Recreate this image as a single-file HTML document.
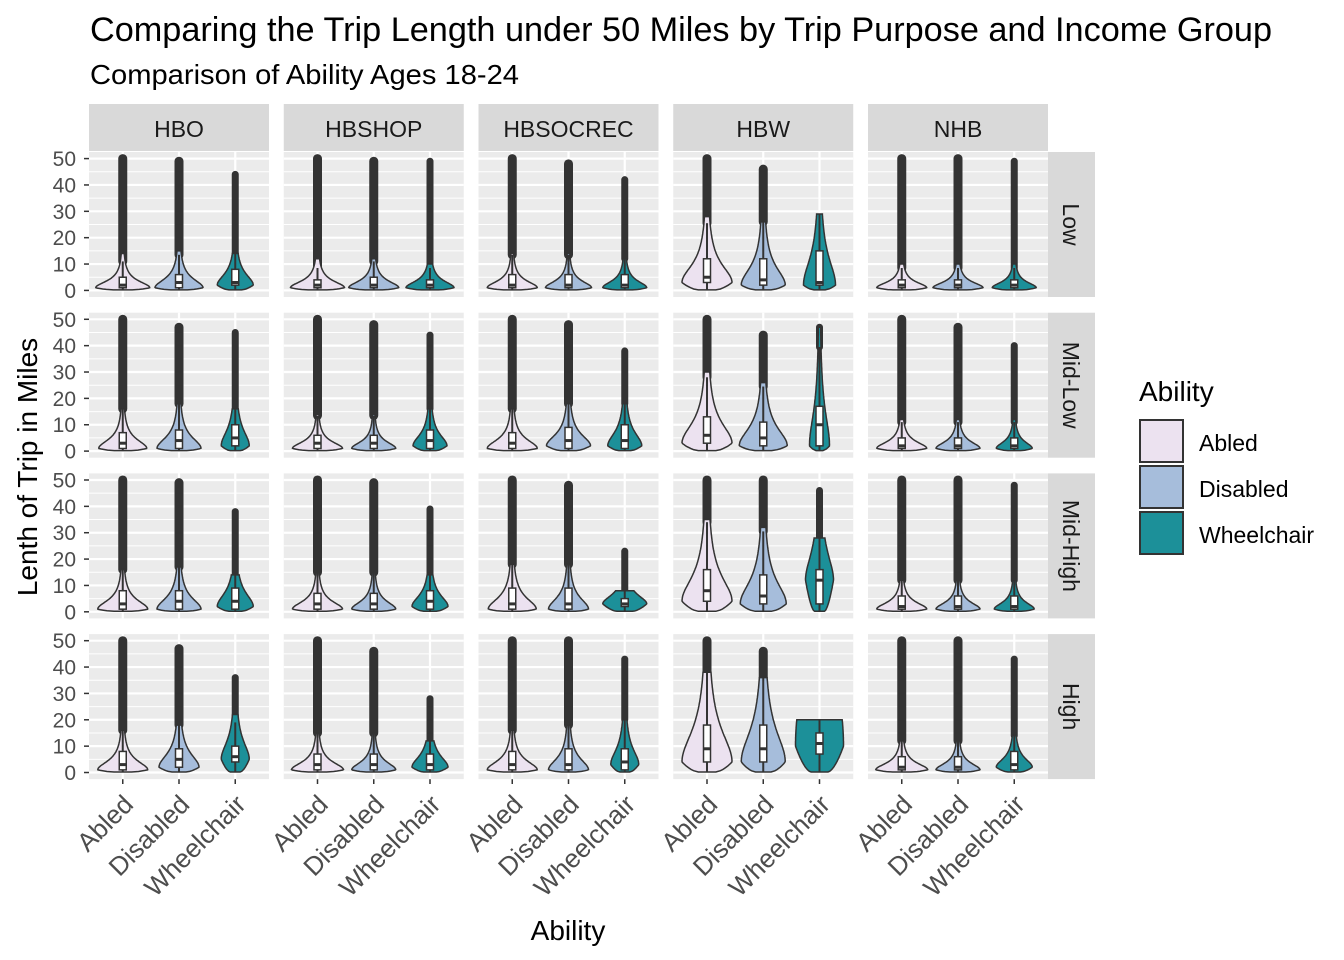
<!DOCTYPE html>
<html><head><meta charset="utf-8"><style>
html,body{margin:0;padding:0;background:#fff}
svg{display:block;font-family:"Liberation Sans",Arial,sans-serif}
</style></head><body>
<svg id="chart" width="1344" height="960" viewBox="0 0 1344 960" xmlns="http://www.w3.org/2000/svg">
<text x="90" y="41" font-size="34" fill="#000" textLength="1182" lengthAdjust="spacingAndGlyphs">Comparing the Trip Length under 50 Miles by Trip Purpose and Income Group</text>
<text x="90" y="84" font-size="28" fill="#000" textLength="429" lengthAdjust="spacingAndGlyphs">Comparison of Ability Ages 18-24</text>
<text transform="translate(37,467) rotate(-90)" text-anchor="middle" font-size="28" fill="#000">Lenth of Trip in Miles</text>
<text x="568" y="940" text-anchor="middle" font-size="28" fill="#000">Ability</text>
<g id="panels"></g>
<g>
<text x="1139" y="401" font-size="28" fill="#000">Ability</text>
<rect x="1140" y="420" width="43" height="42" fill="#ECE2F0" stroke="#333" stroke-width="2"/>
<rect x="1140" y="466" width="43" height="42" fill="#A6BDDB" stroke="#333" stroke-width="2"/>
<rect x="1140" y="512" width="43" height="42" fill="#1C9099" stroke="#333" stroke-width="2"/>
<text x="1199" y="451" font-size="23" fill="#000">Abled</text>
<text x="1199" y="497" font-size="23" fill="#000">Disabled</text>
<text x="1199" y="543" font-size="23" fill="#000">Wheelchair</text>
</g>
</svg>
<script>
const purposes = ["HBO","HBSHOP","HBSOCREC","HBW","NHB"];
const incomes = ["Low","Mid-Low","Mid-High","High"];
const abilities = ["Abled","Disabled","Wheelchair"];
const yTicks = [0,10,20,30,40,50];
const fills = ["#ECE2F0","#A6BDDB","#1C9099"];
// per violin: [q1, median, q3, violinTop, max, mode, spread, widthPx]
const lowData = [
 [[1,2,5,14,50,1,3,27],[1,3,6,15,49,1,4,24],[2,3,8,14,44,2,5,18]],
 [[1,2,4,12,50,1,3,27],[1,2,5,12,49,1,3,25],[1,2,4,10,49,1,3,24]],
 [[1,2,6,14,50,1,3,25],[1,2,6,14,48,1,3,23],[1,2,6,12,42,1,3,22]],
 [[3,5,12,28,50,3,8,25],[2,4,12,26,46,2,8,22],[2,3,15,29,29,2,12,16]],
 [[1,2,4,10,50,1,2.5,25],[1,2,4,10,50,1,2.5,25],[1,2,4,10,49,1,2.5,22]]
];
const midLowData = [
 [[1,3,7,16,50,1,4,24],[1,4,8,18,47,1,5,22],[2,5,10,16,45,2,7,14]],
 [[1,3,6,14,50,1,3,25],[1,3,6,14,48,1,3,22],[1,4,8,16,44,2,5,17]],
 [[1,3,7,16,50,1,4,25],[1,4,9,18,48,2,5,22],[1,4,10,18,38,2,6,17]],
 [[3,6,13,30,50,3,9,25],[2,5,11,26,44,2,8,24],[2,10,17,47,47,2,15,10]],
 [[1,2,5,12,50,1,3,25],[1,2,5,12,47,1,3,22],[1,2,5,12,40,1,3,18]]
];
const midHighData = [
 [[1,3,8,16,50,1,4,25],[1,4,8,17,49,1,5,22],[1,4,9,14,38,2,6,18]],
 [[1,3,7,15,50,1,3.5,25],[1,3,7,15,49,1,3.5,22],[1,4,8,14,39,2,5,18]],
 [[1,3,9,18,50,1,5,24],[1,3,9,18,48,1,5,20],[2,3,5,8,23,3,4,22]],
 [[4,8,16,35,50,4,11,25],[3,6,14,32,50,3,10,23],[3,12,16,28,46,12,12,14]],
 [[1,2,6,12,50,1,3,25],[1,2,6,12,50,1,3,22],[1,2,6,12,48,1,3,20]]
];
const highData = [
 [[1,3,8,16,50,1,4,25],[2,5,9,18,47,2,6,20],[4,6,10,22,36,5,8,14]],
 [[1,3,7,15,50,1,3.5,26],[1,3,7,15,46,1,3.5,22],[1,3,7,12,28,2,5,18]],
 [[1,3,8,16,50,1,4,25],[1,3,9,18,50,1,5,20],[1,4,9,20,43,3,7,14]],
 [[4,9,18,38,50,4,14,25],[4,9,18,36,46,4,14,22],[7,11,15,20,20,10,40,24]],
 [[1,2,6,12,50,1,3,26],[1,2,6,12,50,1,3,22],[1,3,8,14,43,2,4,18]]
];
const allData = [lowData, midLowData, midHighData, highData];

const NS = "http://www.w3.org/2000/svg";
const root = document.getElementById("panels");
const panelW = 180, panelH = 145, colStep = 194.75, rowStep = 160.7, left0 = 89, top0 = 152;
function mk(tag, attrs, parent){const e=document.createElementNS(NS,tag);for(const k in attrs)e.setAttribute(k,attrs[k]);(parent||root).appendChild(e);return e;}
function yScale(r, v){const t=top0+r*rowStep;const u=panelH/55;return t+panelH-(v+2.5)*u;}
function xScale(c, i){const u=panelW/3.2;return left0+c*colStep+(i+1-0.4)*u;}
function halfW(d, v){const [q1,med,q3,vt,mx,m,s,W]=d;
 if(v>vt) return 0;
 let w;
 if(v<m){const lo=0.2; w = v<=lo?0.35:0.35+0.65*Math.pow((v-lo)/Math.max(m-lo,0.01),0.6);}
 else {const z=(v-m)/s; w=1/(1+z*z*0.9);}
 return Math.max(W*w,1.2);
}

purposes.forEach((p,c)=>{
 const x=left0+c*colStep;
 const g=mk("g",{});
 
 
 mk("rect",{x:x,y:104,width:panelW,height:47,fill:"#D9D9D9"},g);
 const t=mk("text",{x:x+panelW/2,y:137,"text-anchor":"middle","font-size":23,fill:"#1A1A1A"},g);t.textContent=p;
});
incomes.forEach((inc,r)=>{
 const y=top0+r*rowStep;
 const g=mk("g",{});
 
 
 mk("rect",{x:1048,y:y,width:47,height:panelH,fill:"#D9D9D9"},g);
 const t=mk("text",{transform:`translate(1063,${y+panelH/2}) rotate(90)`,"text-anchor":"middle","font-size":23,fill:"#1A1A1A"},g);t.textContent=inc;
 yTicks.forEach(v=>{
  const yy=yScale(r,v);
  const tk=mk("line",{x1:84,x2:89,y1:yy,y2:yy,stroke:"#333","stroke-width":1.5});
  
  
  const lb=mk("text",{x:76,y:yy+7.5,"text-anchor":"end","font-size":21,fill:"#4D4D4D"});
  
  
  lb.textContent=v;
 });
});
purposes.forEach((p,c)=>{
 abilities.forEach((a,i)=>{
  const x=xScale(c,i);
  const tk=mk("line",{x1:x,x2:x,y1:779,y2:784,stroke:"#333","stroke-width":1.5});
  
  
  const lb=mk("text",{transform:`translate(${x+12},${806}) rotate(-45)`,"text-anchor":"end","font-size":26,fill:"#4D4D4D"});
  
  
  lb.textContent=a;
 });
});
incomes.forEach((inc,r)=>{
 purposes.forEach((p,c)=>{
  const x0=left0+c*colStep, y0=top0+r*rowStep;
  const g=mk("g",{});
  
  
  mk("rect",{x:x0,y:y0,width:panelW,height:panelH,fill:"#EBEBEB"},g);
  for(let v=5;v<=50;v+=10){const yy=yScale(r,v);mk("line",{x1:x0,x2:x0+panelW,y1:yy,y2:yy,stroke:"#fff","stroke-width":1},g);}
  yTicks.forEach(v=>{const yy=yScale(r,v);mk("line",{x1:x0,x2:x0+panelW,y1:yy,y2:yy,stroke:"#fff","stroke-width":2.2},g);});
  abilities.forEach((a,i)=>{const xx=xScale(c,i);mk("line",{x1:xx,x2:xx,y1:y0,y2:y0+panelH,stroke:"#fff","stroke-width":2.2},g);});
  abilities.forEach((a,i)=>{
   const d=allData[r][c][i];
   const [q1,med,q3,vt,mx]=d;
   const cx=xScale(c,i);
   const vg=mk("g",{},g);
   
   
   const wTop=Math.min(vt,q3+1.5*(q3-q1));
   if(mx>wTop){
    const ol=mk("line",{x1:cx,x2:cx,y1:yScale(r,wTop),y2:yScale(r,mx),stroke:"#333","stroke-width":i==2?7:9,"stroke-linecap":"round"},vg);
    
    
   }
   const pts=[];const lo=0.2;const n=80;
   for(let k=0;k<=n;k++){const v=lo+(vt-lo)*k/n;pts.push([halfW(d,v),yScale(r,v)]);}
   let path="M"+pts.map(q=>(cx+q[0]).toFixed(1)+","+q[1].toFixed(1)).join("L");
   path+="L"+pts.slice().reverse().map(q=>(cx-q[0]).toFixed(1)+","+q[1].toFixed(1)).join("L")+"Z";
   const vp=mk("path",{d:path,fill:fills[i],stroke:"#333","stroke-width":1.5},vg);
   
   
   mk("line",{x1:cx,x2:cx,y1:yScale(r,q3),y2:yScale(r,wTop),stroke:"#333","stroke-width":2},vg);
   mk("line",{x1:cx,x2:cx,y1:yScale(r,q1),y2:yScale(r,0.3),stroke:"#333","stroke-width":2},vg);
   const bx=mk("rect",{x:cx-3.5,y:yScale(r,q3),width:7,height:yScale(r,q1)-yScale(r,q3),fill:"#fff",stroke:"#333","stroke-width":1.5},vg);
   
   
   mk("line",{x1:cx-3.5,x2:cx+3.5,y1:yScale(r,med),y2:yScale(r,med),stroke:"#333","stroke-width":3},vg);
  });
 });
});
</script>
</body></html>
